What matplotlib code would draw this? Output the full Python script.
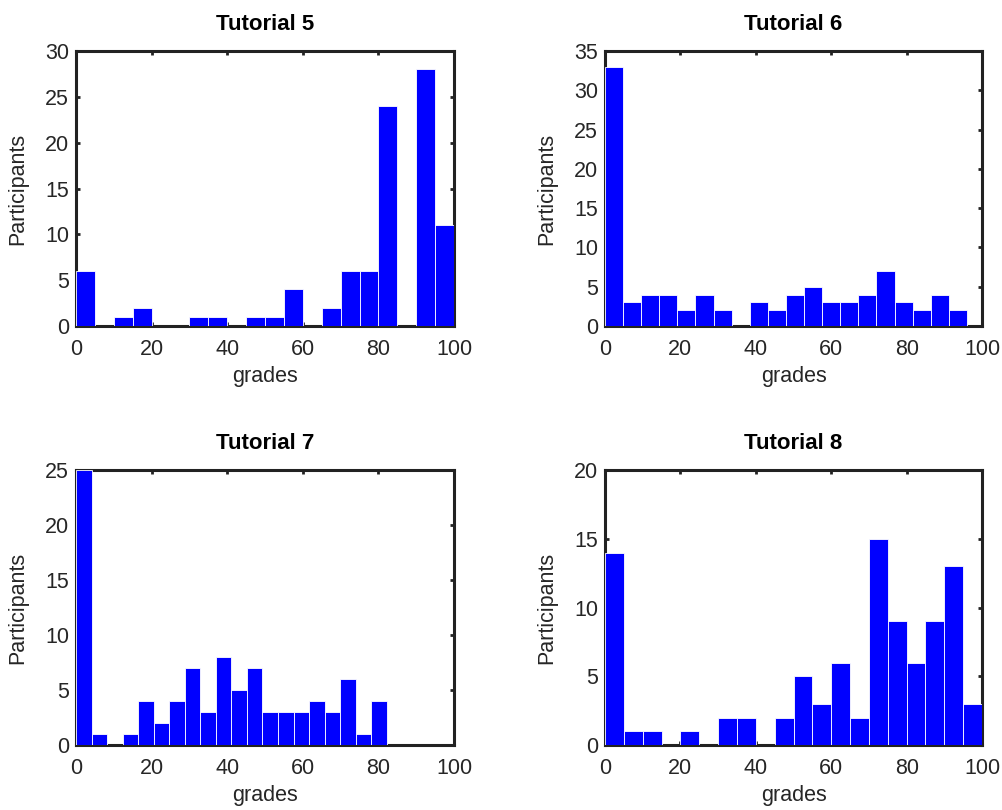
import numpy as np
import matplotlib
matplotlib.use("Agg")
from matplotlib import pyplot as plt

# histogram counts per tutorial (20 bins each)
titles = ["Tutorial 5", "Tutorial 6", "Tutorial 7", "Tutorial 8"]
counts_t5 = [6, 0, 1, 2, 0, 0, 1, 1, 0, 1, 1, 4, 0, 2, 6, 6, 24, 0, 28, 11]
counts_t6 = [33, 3, 4, 4, 2, 4, 2, 0, 3, 2, 4, 5, 3, 3, 4, 7, 3, 2, 4, 2]
counts_t7 = [25, 1, 0, 1, 4, 2, 4, 7, 3, 8, 5, 7, 3, 3, 3, 4, 3, 6, 1, 4]
counts_t8 = [14, 1, 1, 0, 1, 0, 2, 2, 0, 2, 5, 3, 6, 2, 15, 9, 6, 9, 13, 3]
# highest grade in each tutorial (upper edge of the binned range)
grade_max = [100, 96, 82.2, 100]
y_max = [30, 35, 25, 20]
x_ticks = [0, 20, 40, 60, 80, 100]

all_counts = [counts_t5, counts_t6, counts_t7, counts_t8]

plt.rcParams["font.family"] = ["Liberation Sans", "DejaVu Sans"]

fig = plt.figure(figsize=(10.03, 8.10), dpi=100)
positions = [
    [0.0758, 0.5975, 0.3769, 0.3395],
    [0.6032, 0.5975, 0.3759, 0.3395],
    [0.0758, 0.0802, 0.3769, 0.3395],
    [0.6032, 0.0802, 0.3759, 0.3395],
]

label_col = "#262626"
fs = 15.5
for pos, title, counts, gmax, ymax in zip(positions, titles, all_counts, grade_max, y_max):
    ax = fig.add_axes(pos)
    edges = np.linspace(0, gmax, len(counts) + 1)
    ax.bar(edges[:-1], counts, width=np.diff(edges), align="edge",
           color="#0000ff", edgecolor="white", linewidth=0.6, zorder=3)
    ax.set_xlim(0, 100)
    ax.set_ylim(0, ymax)
    ax.set_xticks(x_ticks)
    ax.set_yticks(np.arange(0, ymax + 1, 5))
    for sp in ax.spines.values():
        sp.set_linewidth(2.2)
        sp.set_color("#222222")
        sp.set_zorder(2)
    ax.tick_params(direction="in", length=3, width=2, top=True, right=True,
                   labelsize=fs, labelcolor=label_col, color="#222222")
    ax.tick_params(axis="x", pad=9)
    ax.tick_params(axis="y", pad=5)
    ax.set_title(title, fontsize=16, fontweight="bold", pad=15)
    ax.set_xlabel("grades", fontsize=fs, color=label_col, labelpad=5)
    ax.set_ylabel("Participants", fontsize=fs, color=label_col, labelpad=12)

fig.savefig("out.png", dpi=100)
